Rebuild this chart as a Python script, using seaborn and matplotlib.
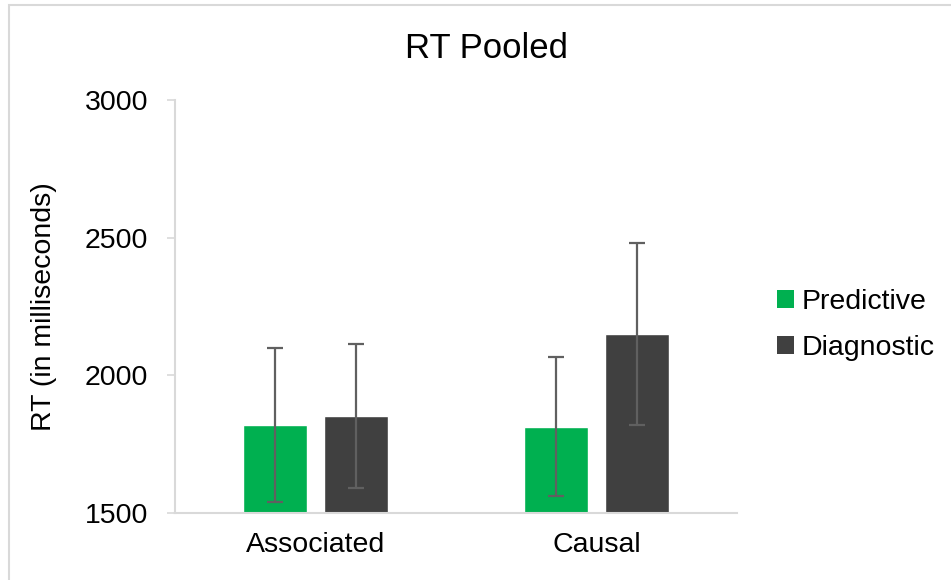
import matplotlib
matplotlib.use("Agg")
import matplotlib.pyplot as plt
from matplotlib.patches import Patch, Rectangle
import numpy as np
import pandas as pd
import seaborn as sns

# Mean response times and error margins per condition
categories = ["Associated", "Causal"]
conditions = ["Predictive", "Diagnostic"]
predictive_rt = [1820, 1814]
diagnostic_rt = [1852, 2150]
predictive_err = [281, 253]
diagnostic_err = [263, 330]
y_ticks = [1500, 2000, 2500, 3000]

colors = {"Predictive": "#00B050", "Diagnostic": "#404040"}
err_color = "#606060"
axis_grey = "#D9D9D9"

df = pd.DataFrame({
    "category": categories * 2,
    "condition": ["Predictive"] * 2 + ["Diagnostic"] * 2,
    "rt": predictive_rt + diagnostic_rt,
    "err": predictive_err + diagnostic_err,
})

sns.set_theme(style="white")
plt.rcParams["font.family"] = ["Liberation Sans", "DejaVu Sans"]
plt.rcParams["text.color"] = "#000000"

fig = plt.figure(figsize=(9.51, 5.80), dpi=100)
ax = fig.add_axes([175 / 951, 1 - 513 / 580, (737 - 175) / 951, (513 - 100) / 580])

sns.barplot(data=df, x="category", y="rt", hue="condition",
            order=categories, hue_order=conditions, palette=colors,
            width=0.576, gap=0.22, errorbar=None, legend=False,
            saturation=1, ax=ax)

# Error bars at the centre of each bar
for cond, container in zip(conditions, ax.containers):
    sub = df[df["condition"] == cond].set_index("category").loc[categories]
    xs = [p.get_x() + p.get_width() / 2 for p in container.patches]
    ax.errorbar(xs, sub["rt"].values, yerr=sub["err"].values, fmt="none",
                ecolor=err_color, elinewidth=1.6, capsize=6, capthick=1.6,
                zorder=5)

ax.set_xlim(-0.5, 1.5)
ax.set_ylim(1500, 3000)
ax.set_yticks(y_ticks)
ax.set_yticklabels([str(t) for t in y_ticks])
ax.set_xlabel("")
ax.set_ylabel("RT (in milliseconds)", fontsize=20.5, color="#000000")
ax.yaxis.set_label_coords(-0.21, 0.5)

for side in ["top", "right"]:
    ax.spines[side].set_visible(False)
for side in ["left", "bottom"]:
    ax.spines[side].set_color(axis_grey)
    ax.spines[side].set_linewidth(1.5)

ax.tick_params(axis="y", which="major", left=True, length=6, width=1.2,
               color=axis_grey, pad=13.5, labelsize=20.5, labelcolor="#000000")
ax.tick_params(axis="x", which="major", bottom=False, length=0, pad=14,
               labelsize=20.5, labelcolor="#000000")

# Title
fig.text(486 / 951, 1 - 58 / 580, "RT Pooled", ha="center", va="baseline",
         fontsize=25, color="#000000")

# Legend on the right
handles = [Patch(facecolor=colors[c], edgecolor="none", label=c) for c in conditions]
leg = fig.legend(handles=handles, loc="center left",
                 bbox_to_anchor=(777 / 951, 1 - 325 / 580), frameon=False,
                 fontsize=20.5, handlelength=0.58, handleheight=0.58,
                 handletextpad=0.3, labelspacing=0.72, borderpad=0,
                 borderaxespad=0, labelcolor="#000000")

# Chart-area border
fig.patches.append(Rectangle((9 / 951, -0.05), 1.2, (1 - 5 / 580) + 0.05,
                             transform=fig.transFigure, fill=False,
                             edgecolor=axis_grey, linewidth=1.5))

fig.savefig("out.png", dpi=100)
